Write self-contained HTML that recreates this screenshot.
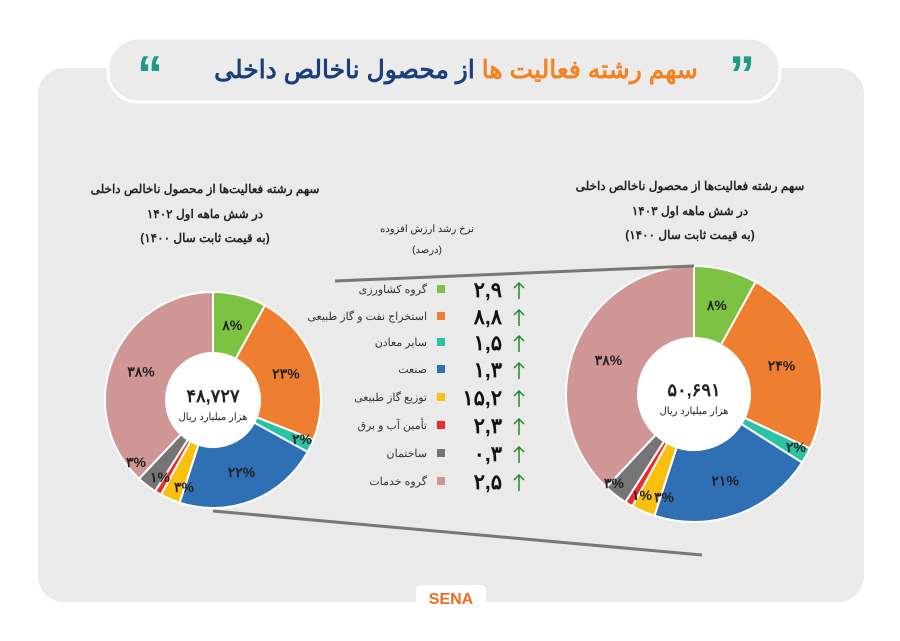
<!DOCTYPE html>
<html><head><meta charset="utf-8"><style>
body{margin:0;background:#fff;}
svg text{font-family:"Liberation Sans","Noto Sans CJK SC",sans-serif;}
</style></head><body>
<svg width="900" height="636" viewBox="0 0 900 636" xmlns="http://www.w3.org/2000/svg">
<rect x="38" y="68" width="826" height="534" rx="26" fill="#ebeaea"/>
<rect x="108" y="38" width="672" height="64" rx="30" fill="#ebebeb" stroke="#fff" stroke-width="3"/>
<text x="742" y="92" font-size="52" font-weight="bold" fill="#1f9a86" text-anchor="middle">”</text>
<text x="150" y="92" font-size="52" font-weight="bold" fill="#1f9a86" text-anchor="middle">“</text>
<text x="456" y="78" font-size="25" font-weight="bold" text-anchor="middle" direction="rtl"><tspan fill="#f58220">سهم رشته فعالیت ها</tspan><tspan fill="#1b3f7a"> از محصول ناخالص داخلی</tspan></text>

<g id="charts"></g>
<line x1="335" y1="281" x2="694" y2="266" stroke="#777" stroke-width="3"/>
<line x1="213" y1="511" x2="702" y2="555" stroke="#777" stroke-width="3"/>

<g font-size="12" font-weight="bold" fill="#222" text-anchor="middle" direction="rtl">
<text x="205" y="193">سهم رشته فعالیت‌ها از محصول ناخالص داخلی</text>
<text x="205" y="218">در شش ماهه اول ۱۴۰۲</text>
<text x="205" y="242">(به قیمت ثابت سال ۱۴۰۰)</text>
<text x="690" y="190">سهم رشته فعالیت‌ها از محصول ناخالص داخلی</text>
<text x="690" y="215">در شش ماهه اول ۱۴۰۳</text>
<text x="690" y="239">(به قیمت ثابت سال ۱۴۰۰)</text>
</g>
<g font-size="10" fill="#222" text-anchor="middle" direction="rtl">
<text x="427" y="232">نرخ رشد ارزش افزوده</text>
<text x="427" y="253">(درصد)</text>
</g>
<g id="legend"></g>

<rect x="416" y="585" width="70" height="28" rx="5" fill="#fff"/>
<text x="451" y="604" font-size="16" font-weight="bold" fill="#f26a21" text-anchor="middle">SENA</text>
<script>
var NS="http://www.w3.org/2000/svg";
var cols=["#7dc242","#ef7f30","#2bc3a4","#2f6fb3","#f9c10e","#ec2b2b","#757575","#d09696"];
function arc(cx,cy,R,r,a0,a1){function p(rad,a){return [cx+rad*Math.sin(a),cy-rad*Math.cos(a)];}
var l=(a1-a0)>Math.PI?1:0,A=p(R,a0),B=p(R,a1),C=p(r,a1),D=p(r,a0);
return "M"+A+"A"+R+","+R+" 0 "+l+" 1 "+B+"L"+C+"A"+r+","+r+" 0 "+l+" 0 "+D+"Z";}
function txt(g,x,y,s,fs){var t=document.createElementNS(NS,"text");t.setAttribute("x",x);t.setAttribute("y",y);t.setAttribute("text-anchor","middle");
t.setAttribute("font-size",fs);t.setAttribute("font-weight","bold");t.setAttribute("fill","#222");t.textContent=s;g.appendChild(t);return t;}
function donut(cx,cy,R,r,vals,labels,total){var g=document.getElementById("charts");var a=0;
vals.forEach(function(v,i){var a1=a+v/100*2*Math.PI;var p=document.createElementNS(NS,"path");
p.setAttribute("d",arc(cx,cy,R,r,a,a1));p.setAttribute("fill",cols[i]);p.setAttribute("stroke","#fff");p.setAttribute("stroke-width","2");g.appendChild(p);a=a1;});
a=0;
vals.forEach(function(v,i){var a1=a+v/100*2*Math.PI;var m=(a+a1)/2,rr=(R+r)/2;var L=labels[i];
var x=L.length>1?L[1]:cx+rr*Math.sin(m),y=L.length>1?L[2]:cy-rr*Math.cos(m)+5;txt(g,x,y,L[0],14);a=a1;});
var c=document.createElementNS(NS,"circle");c.setAttribute("cx",cx);c.setAttribute("cy",cy);c.setAttribute("r",r);c.setAttribute("fill","#fff");g.appendChild(c);
txt(g,cx,cy+2,total,18);
var t=txt(g,cx,cy+20,"هزار میلیارد ریال",10);t.setAttribute("font-weight","normal");t.setAttribute("direction","rtl");}
donut(213,400,108,47,[8,23,2,22,3,1,3,38],[["۸%"],["۲۳%"],["۲%",302,444],["۲۲%"],["۳%",184,492],["۱%",160,482],["۳%",136,467],["۳۸%"]],"۴۸,۷۲۷");
donut(694,394,128,56,[8,24,2,21,3,1,3,38],[["۸%"],["۲۴%"],["۲%",796,452],["۲۱%"],["۳%",664,502],["۱%",642,500],["۳%",614,488],["۳۸%"]],"۵۰,۶۹۱");
var names=["گروه کشاورزی","استخراج نفت و گاز طبیعی","سایر معادن","صنعت","توزیع گاز طبیعی","تأمین آب و برق","ساختمان","گروه خدمات"];
var nums=["۲,۹","۸,۸","۱,۵","۱,۳","۱۵,۲","۲,۳","۰,۳","۲,۵"];
var ys=[290,317,343,370,398,426,454,482],L=document.getElementById("legend");
names.forEach(function(n,i){var y=ys[i];
var r=document.createElementNS(NS,"rect");r.setAttribute("x",437);r.setAttribute("y",y-5);r.setAttribute("width",8);r.setAttribute("height",8);r.setAttribute("fill",cols[i]);L.appendChild(r);
var t=document.createElementNS(NS,"text");t.setAttribute("x",427);t.setAttribute("y",y+3);t.setAttribute("text-anchor","end");t.setAttribute("font-size","11");t.setAttribute("fill","#333");t.textContent=n;L.appendChild(t);
t=document.createElementNS(NS,"text");t.setAttribute("x",502);t.setAttribute("y",y+7);t.setAttribute("text-anchor","end");t.setAttribute("font-size","21");t.setAttribute("font-weight","bold");t.setAttribute("fill","#111");t.textContent=nums[i];L.appendChild(t);
var p=document.createElementNS(NS,"path");p.setAttribute("d","M519,"+(y+9)+"V"+(y-7)+"M514,"+(y-2)+"L519,"+(y-7)+"L524,"+(y-2));p.setAttribute("stroke","#1e8a2e");p.setAttribute("stroke-width","1.5");p.setAttribute("fill","none");L.appendChild(p);});
</script>
</svg>
</body></html>
